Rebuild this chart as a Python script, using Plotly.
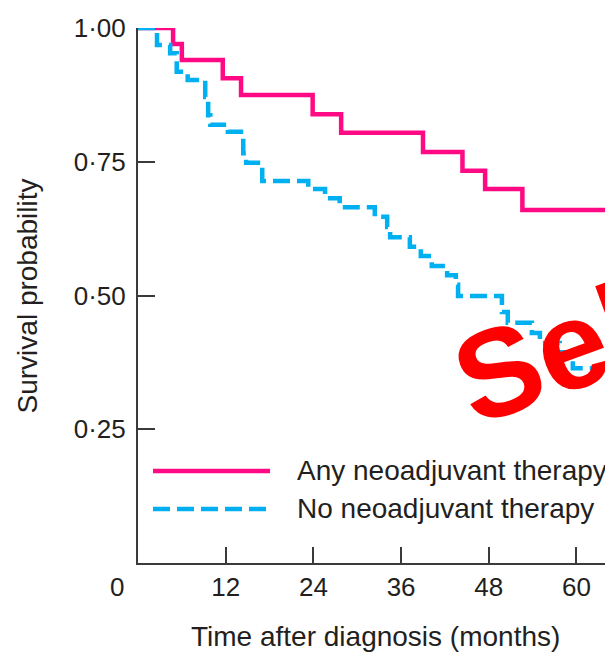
import plotly.graph_objects as go

# ---- data ----
any_neo_t = [0, 4.8, 6.0, 11.6, 14.1, 23.9, 27.8, 39.0, 44.4, 47.5, 52.6, 64.1]
any_neo_s = [1.0, 0.970, 0.940, 0.906, 0.875, 0.839, 0.804, 0.768, 0.733, 0.699, 0.660, 0.660]

no_neo_t = [0, 2.6, 4.4, 5.3, 6.8, 9.2, 9.6, 9.9, 12.3, 14.4, 14.8, 17.0, 23.3, 25.6,
            27.6, 32.4, 34.1, 34.5, 37.2, 38.7, 40.2, 42.3, 43.5, 43.8, 49.8, 50.6,
            53.9, 55.0, 57.7, 59.1, 59.5, 64.5]
no_neo_s = [1.0, 0.968, 0.953, 0.918, 0.903, 0.871, 0.837, 0.819, 0.806, 0.766, 0.748,
            0.714, 0.699, 0.682, 0.665, 0.647, 0.628, 0.609, 0.591, 0.574, 0.555, 0.538,
            0.520, 0.499, 0.469, 0.449, 0.430, 0.411, 0.394, 0.379, 0.364, 0.364]

x_ticks = [12, 24, 36, 48, 60]
y_ticks = [0.25, 0.50, 0.75, 1.00]
y_tick_labels = ["0·25", "0·50", "0·75", "1·00"]

series_names = ["Any neoadjuvant therapy", "No neoadjuvant therapy"]
PINK = "#ff0a84"
CYAN = "#00b0f0"
TXT = "#231f20"
AX = "#3a3a3a"
FONT = "Liberation Sans, Arial, sans-serif"

fig = go.Figure()
fig.add_trace(go.Scatter(x=any_neo_t, y=any_neo_s, mode="lines", line_shape="hv",
                         line=dict(color=PINK, width=4.5), name=series_names[0],
                         cliponaxis=False, showlegend=False))
fig.add_trace(go.Scatter(x=no_neo_t, y=no_neo_s, mode="lines", line_shape="hv",
                         line=dict(color=CYAN, width=4.5, dash="17px,7px"), name=series_names[1],
                         cliponaxis=False, showlegend=False))

# manual legend (long sample lines like the reference)
legend_rows = [(0.172, PINK, "solid", series_names[0]), (0.101, CYAN, "17px,7px", series_names[1])]
shapes = []
annotations = []
for yy, col, dash, label in legend_rows:
    shapes.append(dict(type="line", xref="paper", yref="paper", x0=0.0316, x1=0.278, y0=yy, y1=yy,
                       line=dict(color=col, width=4.5, dash=dash)))
    annotations.append(dict(xref="paper", yref="paper", x=0.33, y=yy, xanchor="left", yanchor="middle",
                            text=label, showarrow=False, font=dict(size=28, color=TXT, family=FONT)))

annotations += [
    dict(xref="paper", yref="paper", x=0.5, y=-0.138, text="Time after diagnosis (months)",
         showarrow=False, xanchor="center", yanchor="middle", font=dict(size=28, color=TXT, family=FONT)),
    dict(xref="paper", yref="paper", x=-0.2316, y=0.5, text="Survival probability", textangle=-90,
         showarrow=False, xanchor="center", yanchor="middle", font=dict(size=28, color=TXT, family=FONT)),
    dict(xref="paper", yref="paper", x=-0.0442, y=-0.0449, text="0",
         showarrow=False, xanchor="center", yanchor="middle", font=dict(size=26, color=TXT, family=FONT)),
    dict(xref="x", yref="y", x=56.1, y=0.391, text="<b>Sel</b>", textangle=-20,
         showarrow=False, xanchor="center", yanchor="middle",
         font=dict(size=125, color="#ff0000", family=FONT)),
]

# page body has an 8px margin: shrink the figure so the plot area lands where the reference has it
fig.update_layout(
    width=605, height=644,
    margin=dict(l=130, r=0, t=20, b=89),
    paper_bgcolor="white", plot_bgcolor="white",
    shapes=shapes, annotations=annotations,
    showlegend=False,
)
fig.update_xaxes(range=[0, 65], tickvals=x_ticks, ticktext=[str(v) for v in x_ticks],
                 ticks="inside", ticklen=16, tickwidth=2, tickcolor=AX,
                 showline=True, linecolor=AX, linewidth=2, showgrid=False, zeroline=False,
                 ticklabelstandoff=0, tickfont=dict(size=26, color=TXT, family=FONT))
fig.update_yaxes(range=[0, 1.0], tickvals=y_ticks, ticktext=y_tick_labels,
                 ticks="inside", ticklen=17, tickwidth=2, tickcolor=AX,
                 showline=True, linecolor=AX, linewidth=2, showgrid=False, zeroline=False,
                 ticklabelstandoff=5, tickfont=dict(size=26, color=TXT, family=FONT))

fig.write_html("out.html")
